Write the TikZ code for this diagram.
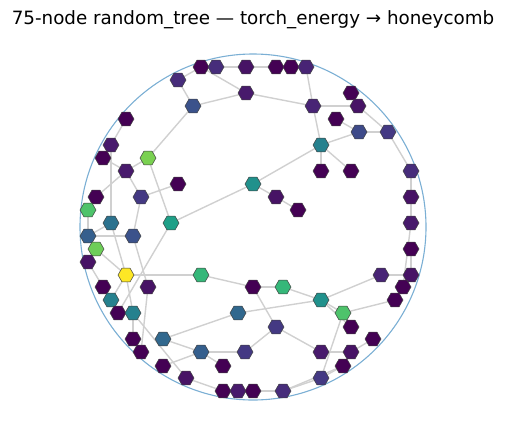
\documentclass[tikz,border=0pt]{standalone}
\usepackage{fontspec}
\setmainfont{DejaVu Sans}
\usetikzlibrary{shapes.geometric}
\pgfdeclarelayer{bg}
\pgfsetlayers{bg,main}
\definecolor{vA}{HTML}{440154}
\definecolor{vB}{HTML}{471365}
\definecolor{vC}{HTML}{481A6C}
\definecolor{vD}{HTML}{482475}
\definecolor{vE}{HTML}{472D7B}
\definecolor{vF}{HTML}{443983}
\definecolor{vG}{HTML}{3E4A89}
\definecolor{vH}{HTML}{3B528B}
\definecolor{vI}{HTML}{355F8D}
\definecolor{vJ}{HTML}{31688E}
\definecolor{vK}{HTML}{2C728E}
\definecolor{vL}{HTML}{26818E}
\definecolor{vM}{HTML}{21918C}
\definecolor{vN}{HTML}{1FA088}
\definecolor{vO}{HTML}{35B779}
\definecolor{vP}{HTML}{4EC36B}
\definecolor{vQ}{HTML}{6ECE58}
\definecolor{vR}{HTML}{7AD151}
\definecolor{vS}{HTML}{FDE725}
\definecolor{ring}{HTML}{7BAFD4}
\definecolor{edgegray}{HTML}{D0D0D0}
\tikzset{
  hex/.style={regular polygon, regular polygon sides=6, minimum size=16pt, inner sep=0pt, draw=black!75, line width=0.5pt},
  link/.style={draw=edgegray, line width=1.4pt},
}
\begin{document}
\begin{tikzpicture}[x=1pt,y=-1pt]
\useasboundingbox (0,0) rectangle (506,429);
\node[font=\fontsize{18.3}{22}\selectfont] (title) at (253,20) {75-node random\_tree — torch\_energy → honeycomb};
\node[circle, draw=ring, line width=1.1pt, minimum size=346pt, inner sep=0pt] (ringc) at (253,227) {};
% nodes
\node[hex,fill=vA] (n1) at (201,67) {};
\node[hex,fill=vE] (n2) at (216,67) {};
\node[hex,fill=vB] (n3) at (246,67) {};
\node[hex,fill=vA] (n4) at (276,67) {};
\node[hex,fill=vA] (n5) at (291,67) {};
\node[hex,fill=vD] (n6) at (306,67) {};
\node[hex,fill=vE] (n7) at (178,80) {};
\node[hex,fill=vC] (n8) at (246,93) {};
\node[hex,fill=vA] (n9) at (351,93) {};
\node[hex,fill=vH] (n10) at (193,106) {};
\node[hex,fill=vD] (n11) at (313,106) {};
\node[hex,fill=vB] (n12) at (358,106) {};
\node[hex,fill=vA] (n13) at (126,119) {};
\node[hex,fill=vA] (n14) at (336,119) {};
\node[hex,fill=vG] (n15) at (359,132) {};
\node[hex,fill=vF] (n16) at (388,132) {};
\node[hex,fill=vC] (n17) at (111,145) {};
\node[hex,fill=vL] (n18) at (321,145) {};
\node[hex,fill=vA] (n19) at (103,158) {};
\node[hex,fill=vR] (n20) at (148,158) {};
\node[hex,fill=vC] (n21) at (126,171) {};
\node[hex,fill=vA] (n22) at (321,171) {};
\node[hex,fill=vA] (n23) at (351,171) {};
\node[hex,fill=vE] (n24) at (411,171) {};
\node[hex,fill=vA] (n25) at (178,184) {};
\node[hex,fill=vM] (n26) at (253,184) {};
\node[hex,fill=vA] (n27) at (96,197) {};
\node[hex,fill=vF] (n28) at (141,197) {};
\node[hex,fill=vB] (n29) at (276,197) {};
\node[hex,fill=vB] (n30) at (411,197) {};
\node[hex,fill=vP] (n31) at (88,210) {};
\node[hex,fill=vA] (n32) at (298,210) {};
\node[hex,fill=vK] (n33) at (111,223) {};
\node[hex,fill=vN] (n34) at (171,223) {};
\node[hex,fill=vC] (n35) at (411,223) {};
\node[hex,fill=vI] (n36) at (88,236) {};
\node[hex,fill=vH] (n37) at (133,236) {};
\node[hex,fill=vQ] (n38) at (96,249) {};
\node[hex,fill=vA] (n39) at (411,249) {};
\node[hex,fill=vB] (n40) at (88,262) {};
\node[hex,fill=vS] (n41) at (126,275) {};
\node[hex,fill=vO] (n42) at (201,275) {};
\node[hex,fill=vD] (n43) at (381,275) {};
\node[hex,fill=vB] (n44) at (411,275) {};
\node[hex,fill=vA] (n45) at (103,287) {};
\node[hex,fill=vB] (n46) at (148,287) {};
\node[hex,fill=vA] (n47) at (253,287) {};
\node[hex,fill=vO] (n48) at (283,287) {};
\node[hex,fill=vA] (n49) at (403,287) {};
\node[hex,fill=vL] (n50) at (111,300) {};
\node[hex,fill=vM] (n51) at (321,300) {};
\node[hex,fill=vA] (n52) at (395,300) {};
\node[hex,fill=vA] (n53) at (118,313) {};
\node[hex,fill=vL] (n54) at (133,313) {};
\node[hex,fill=vJ] (n55) at (238,313) {};
\node[hex,fill=vP] (n56) at (343,313) {};
\node[hex,fill=vF] (n57) at (276,327) {};
\node[hex,fill=vA] (n58) at (351,327) {};
\node[hex,fill=vA] (n59) at (133,339) {};
\node[hex,fill=vJ] (n60) at (163,339) {};
\node[hex,fill=vA] (n61) at (373,339) {};
\node[hex,fill=vA] (n62) at (141,352) {};
\node[hex,fill=vI] (n63) at (201,352) {};
\node[hex,fill=vF] (n64) at (245,352) {};
\node[hex,fill=vC] (n65) at (321,352) {};
\node[hex,fill=vB] (n66) at (351,352) {};
\node[hex,fill=vA] (n67) at (163,366) {};
\node[hex,fill=vA] (n68) at (223,366) {};
\node[hex,fill=vA] (n69) at (343,366) {};
\node[hex,fill=vB] (n70) at (186,378) {};
\node[hex,fill=vF] (n71) at (321,378) {};
\node[hex,fill=vA] (n72) at (223,391) {};
\node[hex,fill=vC] (n73) at (238,391) {};
\node[hex,fill=vA] (n74) at (253,391) {};
\node[hex,fill=vE] (n75) at (283,391) {};
% edges
\begin{pgfonlayer}{bg}
\foreach \a/\b in {7/1,1/2,2/3,3/4,4/5,5/6,1/8,7/10,10/8,10/20,8/11,6/11,11/12,9/12,12/16,11/18,
  14/15,15/16,18/15,18/22,18/23,18/26,16/24,26/29,29/32,26/34,20/34,20/21,21/19,21/28,21/27,
  13/17,17/33,28/25,28/37,27/31,31/36,33/36,36/37,36/38,38/40,38/41,40/45,33/41,37/46,34/53,
  41/50,41/54,41/42,45/50,50/53,46/62,54/59,54/70,42/47,47/48,47/57,48/51,55/51,60/55,60/63,
  63/67,63/68,63/64,64/57,57/65,65/66,66/61,51/56,51/58,51/43,43/44,56/52,56/71,71/69,71/75,
  69/75,75/74,74/73,73/72,72/70,24/30,30/35,35/49,39/44,49/52}
  \draw[link] (n\a.center) -- (n\b.center);
\end{pgfonlayer}
\end{tikzpicture}
\end{document}
